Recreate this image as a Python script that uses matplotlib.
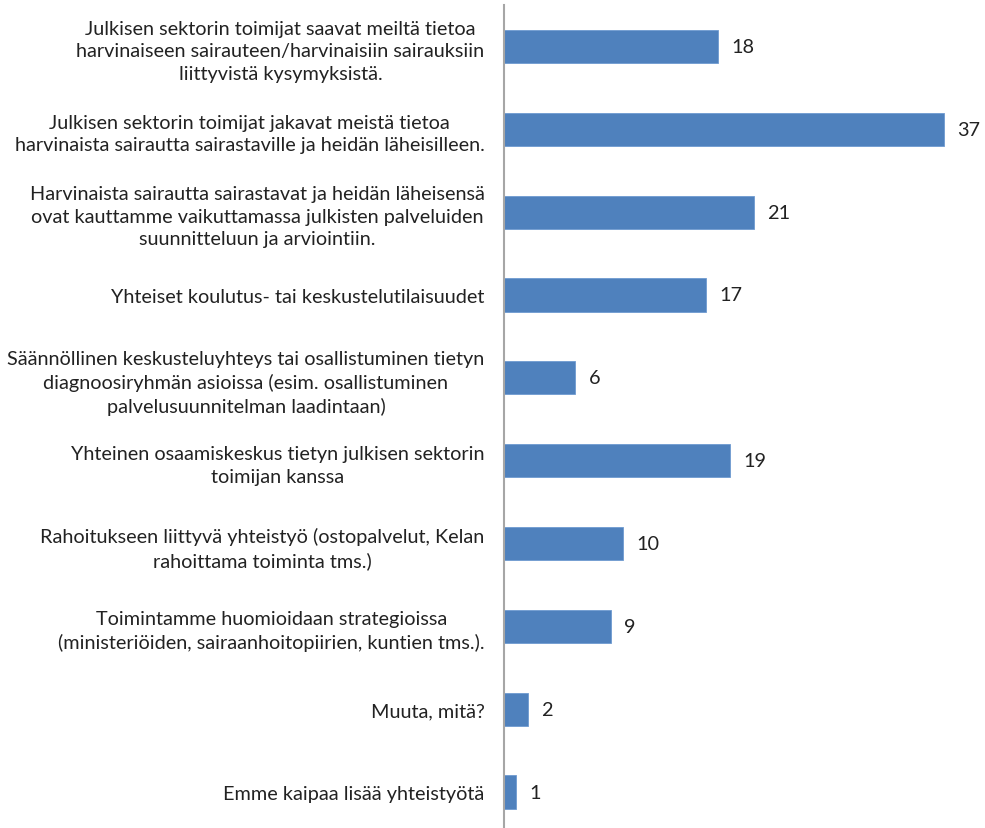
import matplotlib.pyplot as plt

categories = [
    "Julkisen sektorin toimijat saavat meiltä tietoa\nharvinaiseen sairauteen/harvinaisiin sairauksiin\nliittyvistä kysymyksistä.",
    "Julkisen sektorin toimijat jakavat meistä tietoa\nharvinaista sairautta sairastaville ja heidän läheisilleen.",
    "Harvinaista sairautta sairastavat ja heidän läheisensä\novat kauttamme vaikuttamassa julkisten palveluiden\nsuunnitteluun ja arviointiin.",
    "Yhteiset koulutus- tai keskustelutilaisuudet",
    "Säännöllinen keskusteluyhteys tai osallistuminen tietyn\ndiagnoosiryhmän asioissa (esim. osallistuminen\npalvelusuunnitelman laadintaan)",
    "Yhteinen osaamiskeskus tietyn julkisen sektorin\ntoimijan kanssa",
    "Rahoitukseen liittyvä yhteistyö (ostopalvelut, Kelan\nrahoittama toiminta tms.)",
    "Toimintamme huomioidaan strategioissa\n(ministeriöiden, sairaanhoitopiirien, kuntien tms.).",
    "Muuta, mitä?",
    "Emme kaipaa lisää yhteistyötä",
]
values = [18, 37, 21, 17, 6, 19, 10, 9, 2, 1]

plt.rcParams['font.family'] = ['Lato', 'DejaVu Sans']

fig = plt.figure(figsize=(9.85, 8.29), dpi=100)
ax = fig.add_axes([504 / 985, -0.0066, 476 / 985, 0.9994])

pos = list(range(len(values)))
ax.barh(pos, values, height=0.4, color='#4F81BD', edgecolor='#6F9AD0', linewidth=0.6)
ax.set_ylim(len(values) - 0.5, -0.5)
ax.set_xlim(0, 40)

for y, v in zip(pos, values):
    ax.text(v + 1.1, y, str(v), va='center', ha='left', fontsize=14.3, color='#222222')

ax.set_yticks(pos)
ax.set_yticklabels(categories, fontsize=14.3, color='#222222', multialignment='center', linespacing=1.4)
ax.tick_params(axis='y', length=0, pad=14)
ax.set_xticks([])

for side in ['top', 'right', 'bottom']:
    ax.spines[side].set_visible(False)
ax.spines['left'].set_color('#A6A6A6')
ax.spines['left'].set_linewidth(1.5)

fig.savefig('out.png', dpi=100)
